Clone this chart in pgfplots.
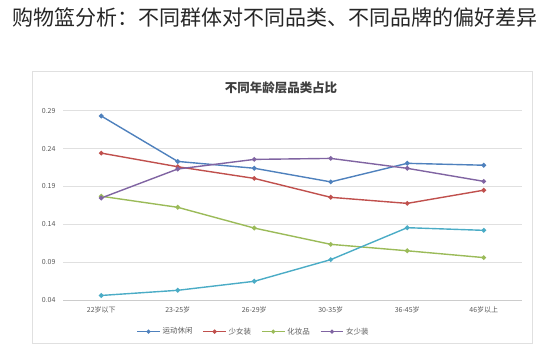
\documentclass[border=0pt]{standalone}
\usepackage{pgfplots}
\pgfplotsset{compat=1.18}
\usepackage{fontspec}
\setmainfont{Noto Sans CJK SC}
\definecolor{cBlue}{HTML}{4F81BD}
\definecolor{cRed}{HTML}{C0504D}
\definecolor{cGreen}{HTML}{9BBB59}
\definecolor{cPurple}{HTML}{8064A2}
\definecolor{cCyan}{HTML}{4BACC6}
\definecolor{tickgray}{HTML}{595959}
\begin{document}
\begin{tikzpicture}[x=1pt,y=1pt]
\useasboundingbox (0,0) rectangle (550,357);
\draw[black!12, line width=0.8pt] (32,286) rectangle (532,14);
\node[font=\fontsize{21}{24}\selectfont, text=black!85] at (275,339) {购物篮分析：不同群体对不同品类、不同品牌的偏好差异};
\node[font=\fontsize{12.5}{14}\selectfont\bfseries, text=black!75] at (281,269) {不同年龄层品类占比};
\begin{axis}[
  at={(63pt,57pt)}, anchor=south west,
  scale only axis, width=459pt, height=189.3pt,
  xmin=-0.5, xmax=5.5, ymin=0.04, ymax=0.29,
  xtick={0,1,2,3,4,5},
  xticklabels={22岁以下,23-25岁,26-29岁,30-35岁,36-45岁,46岁以上},
  ytick={0.04,0.09,0.14,0.19,0.24,0.29},
  yticklabels={0.04,0.09,0.14,0.19,0.24,0.29},
  ymajorgrids, grid style={black!12, line width=0.6pt},
  axis x line*=bottom, axis y line*=left,
  x axis line style={black!20, -},
  y axis line style={draw=none, -},
  major tick length=0pt,
  tick label style={font=\fontsize{7}{8}\selectfont, text=tickgray},
  yticklabel style={xshift=-4pt},
  xticklabel style={yshift=-3pt},
  legend columns=4,
  legend style={at={(0.415,-0.167)}, anchor=center, draw=none, fill=none,
    font=\fontsize{7.5}{8}\selectfont, text=tickgray,
    /tikz/every even column/.append style={column sep=8pt}},
  legend image code/.code={\draw[mark repeat=2,mark phase=2,#1] plot coordinates {(0cm,0cm) (0.4cm,0cm) (0.8cm,0cm)};},
  legend image post style={mark size=1.3pt},
  every axis plot/.append style={line width=1.4pt, mark=*, mark size=1.6pt},
  clip=false,
]
\addplot[color=cBlue] coordinates {(0,0.283) (1,0.223) (2,0.214) (3,0.196) (4,0.2205) (5,0.218)};
\addlegendentry{运动休闲}
\addplot[color=cRed] coordinates {(0,0.234) (1,0.216) (2,0.2006) (3,0.1756) (4,0.1676) (5,0.185)};
\addlegendentry{少女装}
\addplot[color=cGreen] coordinates {(0,0.177) (1,0.1624) (2,0.135) (3,0.1135) (4,0.105) (5,0.096)};
\addlegendentry{化妆品}
\addplot[color=cPurple] coordinates {(0,0.1747) (1,0.213) (2,0.2257) (3,0.227) (4,0.2139) (5,0.1967)};
\addlegendentry{女少装}
\addplot[color=cCyan, forget plot] coordinates {(0,0.046) (1,0.0528) (2,0.0647) (3,0.0933) (4,0.1355) (5,0.132)};
\end{axis}
\end{tikzpicture}
\end{document}
